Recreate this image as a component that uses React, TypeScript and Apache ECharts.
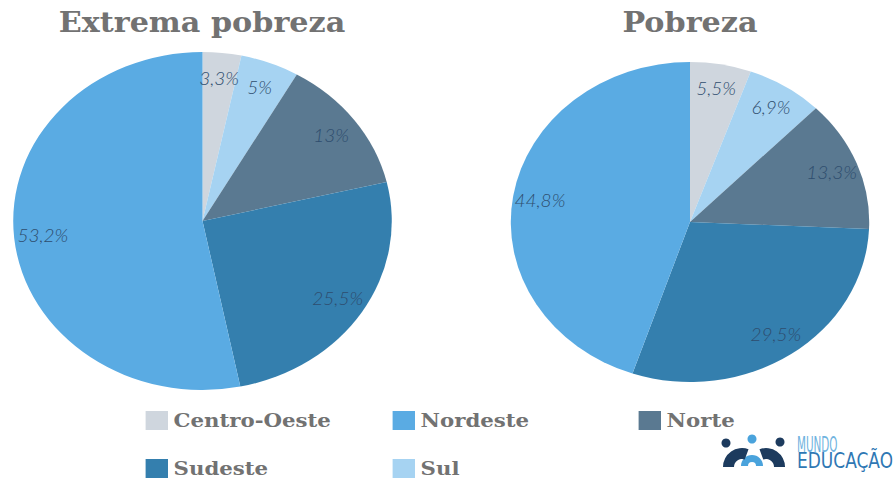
import React, { useEffect, useRef } from "react";
import * as echarts from "echarts";

const regions = ["Centro-Oeste", "Sul", "Norte", "Sudeste", "Nordeste"];
const extremaValues = [3.3, 5, 13, 25.5, 53.2];
const pobrezaValues = [5.5, 6.9, 13.3, 29.5, 44.8];
const regionColors = ["#cfd6de", "#a6d3f2", "#5a7991", "#347fae", "#5aabe3"];
const titles = ["Extrema pobreza", "Pobreza"];
const legendRow1 = ["Centro-Oeste", "Nordeste", "Norte"];
const legendRow2 = ["Sudeste", "Sul"];

const SX = 1.12;
const FULL_W = 893;
const H = 480;
const W = FULL_W / SX;

export default function App() {
  const ref = useRef<HTMLDivElement>(null);
  useEffect(() => {
    if (!ref.current) return;
    const chart = echarts.init(ref.current, null, { renderer: "svg" });
    const mk = (vals: number[]) =>
      regions.map((n, i) => ({ name: n, value: vals[i], itemStyle: { color: regionColors[i] } }));
    const fmt = (p: any) => String(p.value).replace(".", ",") + "%";
    const labelStyle = {
      show: true,
      position: "inside" as const,
      formatter: fmt,
      fontFamily: "Lato",
      fontStyle: "italic" as const,
      fontWeight: 300,
      fontSize: 17,
      color: "#2e4d6e",
    };
    const pies = [
      { vals: extremaValues, cx: 202.5 / SX, cy: 221, r: 169 },
      { vals: pobrezaValues, cx: 690 / SX, cy: 222, r: 160 },
    ];
    const series: any[] = [];
    pies.forEach((p) => {
      series.push({
        type: "pie",
        center: [p.cx, p.cy],
        radius: [0, p.r],
        startAngle: 90,
        clockwise: true,
        data: mk(p.vals),
        label: { show: false },
        labelLine: { show: false },
        emphasis: { disabled: true },
        silent: true,
      });
    });
    pies.forEach((p) => {
      series.push({
        type: "pie",
        center: [p.cx, p.cy],
        radius: [p.r * 0.66, p.r],
        startAngle: 90,
        clockwise: true,
        data: mk(p.vals).map((d) => ({ ...d, itemStyle: { color: "rgba(0,0,0,0)" } })),
        label: labelStyle,
        labelLine: { show: false },
        emphasis: { disabled: true },
        silent: true,
        z: 3,
      });
    });
    const legendBase = {
      icon: "rect",
      itemWidth: 20,
      itemHeight: 19,
      itemGap: 0,
      itemTextGap: 4,
      selectedMode: false,
      textStyle: {
        fontFamily: "DejaVu Serif",
        fontSize: 19,
        fontWeight: "bold",
        color: "#727272",
      },
    };
    const colX = [140 / SX, 387 / SX, 633 / SX];
    const legends: any[] = [];
    legendRow1.forEach((n, i) => legends.push({ ...legendBase, data: [n], left: colX[i], top: 406 }));
    legendRow2.forEach((n, i) => legends.push({ ...legendBase, data: [n], left: colX[i], top: 454 }));

    const navy = "#1d3b5e";
    const light = "#4aa3dc";
    const logo = {
      type: "group",
      x: 718 / SX,
      y: 436,
      scaleX: 1 / SX,
      children: [
        { type: "circle", shape: { cx: 8, cy: 7, r: 4.5 }, style: { fill: navy } },
        { type: "circle", shape: { cx: 34, cy: 3, r: 4.5 }, style: { fill: light } },
        { type: "circle", shape: { cx: 62, cy: 6, r: 4.5 }, style: { fill: navy } },
        {
          type: "sector",
          shape: { cx: 34, cy: 30, r: 11, r0: 4, startAngle: Math.PI, endAngle: Math.PI * 2, clockwise: true },
          style: { fill: light },
        },
        {
          type: "sector",
          shape: { cx: 24, cy: 31, r: 19, r0: 8, startAngle: Math.PI, endAngle: Math.PI * 1.5 + 0.35, clockwise: true },
          style: { fill: navy },
        },
        {
          type: "sector",
          shape: { cx: 48, cy: 31, r: 19, r0: 8, startAngle: Math.PI * 1.5 - 0.35, endAngle: Math.PI * 2, clockwise: true },
          style: { fill: navy },
        },
        {
          type: "text",
          x: 79,
          y: -2,
          scaleX: 0.55,
          style: { text: "MUNDO", fontFamily: "DejaVu Sans Condensed", fontSize: 21, fill: "#6fb3e0" },
        },
        {
          type: "text",
          x: 79,
          y: 13,
          scaleX: 0.86,
          style: { text: "EDUCAÇÃO", fontFamily: "DejaVu Sans Condensed", fontSize: 22, fill: "#2f78b4" },
        },
      ],
    };

    const titleStyle = {
      align: "center",
      verticalAlign: "middle",
      fontFamily: "DejaVu Serif",
      fontWeight: "bold",
      fontSize: 27,
      fill: "#727272",
    };

    chart.setOption({
      animation: false,
      backgroundColor: "#ffffff",
      legend: legends,
      series,
      graphic: [
        { type: "text", x: 202 / SX, y: 23, style: { ...titleStyle, text: titles[0] } },
        { type: "text", x: 690 / SX, y: 23, style: { ...titleStyle, text: titles[1] } },
        logo,
      ],
    });
    return () => chart.dispose();
  }, []);
  return (
    <div style={{ position: "fixed", left: 0, top: 0, width: FULL_W, height: H, overflow: "hidden", background: "#fff" }}>
      <div
        ref={ref}
        style={{ width: W, height: H, transform: `scaleX(${SX})`, transformOrigin: "0 0" }}
      />
    </div>
  );
}
